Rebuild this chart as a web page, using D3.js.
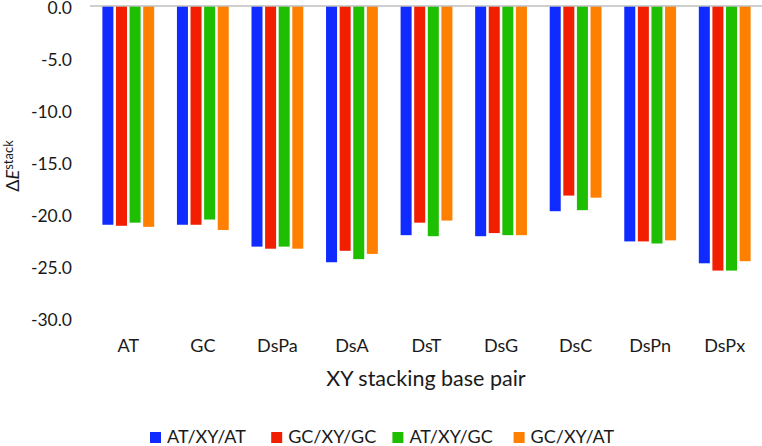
<!DOCTYPE html>
<html>
<head>
<meta charset="utf-8">
<script src="https://cdn.jsdelivr.net/npm/d3@7"></script>
<style>
  body { margin: 0; background: #fff; }
  text { font-family: Lato, "Open Sans", sans-serif; fill: #1a1a1a; }
</style>
</head>
<body>
<div id="chart"></div>
<script>
// Data
var categories = ["AT", "GC", "DsPa", "DsA", "DsT", "DsG", "DsC", "DsPn", "DsPx"];
var seriesNames = ["AT/XY/AT", "GC/XY/GC", "AT/XY/GC", "GC/XY/AT"];
var seriesColors = ["#0f2bff", "#f21e00", "#1ebe00", "#ff8000"];
var atXyAt = [-21.0, -21.0, -23.1, -24.6, -22.0, -22.1, -19.7, -22.6, -24.7];
var gcXyGc = [-21.1, -21.0, -23.3, -23.5, -20.8, -21.8, -18.2, -22.6, -25.4];
var atXyGc = [-20.8, -20.5, -23.1, -24.3, -22.1, -22.0, -19.6, -22.8, -25.4];
var gcXyAt = [-21.2, -21.5, -23.3, -23.8, -20.6, -22.0, -18.4, -22.5, -24.5];
var yTicks = [0, -5, -10, -15, -20, -25, -30];

var seriesValues = [atXyAt, gcXyGc, atXyGc, gcXyAt];

var svgWidth = 762;
var svgHeight = 446;

var svg = d3.select("#chart")
  .append("svg")
  .attr("width", svgWidth)
  .attr("height", svgHeight);

// Scales
var x0 = d3.scaleBand()
  .domain(categories)
  .range([91, 762]);

var groupWidth = 51.8;
var x1 = d3.scaleBand()
  .domain(seriesNames)
  .range([0, groupWidth])
  .paddingInner(0.19);

var y = d3.scaleLinear()
  .domain([-30, 0])
  .range([318.5, 6]);

// Bars
var groups = svg.selectAll(".group")
  .data(categories)
  .enter()
  .append("g")
  .attr("class", "group")
  .attr("transform", d => `translate(${x0(d) + (x0.bandwidth() - groupWidth) / 2}, 0)`);

groups.selectAll("rect")
  .data((d, i) => seriesNames.map((s, j) => ({ s: s, v: seriesValues[j][i], c: seriesColors[j] })))
  .enter()
  .append("rect")
  .attr("x", d => x1(d.s))
  .attr("y", y(0))
  .attr("width", x1.bandwidth())
  .attr("height", d => y(d.v) - y(0))
  .attr("fill", d => d.c);

// Zero line
svg.append("line")
  .attr("x1", 90)
  .attr("x2", 762)
  .attr("y1", y(0))
  .attr("y2", y(0))
  .attr("stroke", "#bfbfbf")
  .attr("stroke-width", 1.5);

// Y axis labels (plain hyphen like the original)
var leftAxis = d3.axisLeft(y)
  .tickValues(yTicks)
  .tickSize(0)
  .tickPadding(0)
  .tickFormat(d => d.toFixed(1));

var yAxisG = svg.append("g")
  .attr("transform", "translate(72, 0)")
  .call(leftAxis);
yAxisG.select(".domain").remove();
yAxisG.selectAll("text")
  .attr("font-family", "Lato, sans-serif")
  .attr("font-size", "17.5px")
  .attr("dy", "0.42em")
  .attr("fill", "#1a1a1a");

// Category labels
var bottomAxis = d3.axisBottom(x0)
  .tickSize(0)
  .tickPadding(0);

var xAxisG = svg.append("g")
  .attr("transform", "translate(0, 339)")
  .call(bottomAxis);
xAxisG.select(".domain").remove();
xAxisG.selectAll("text")
  .attr("font-family", "Lato, sans-serif")
  .attr("font-size", "18px")
  .attr("fill", "#1a1a1a");

// Axis titles
svg.append("text")
  .attr("x", 426)
  .attr("y", 386)
  .attr("text-anchor", "middle")
  .attr("font-size", "21.5px")
  .text("XY stacking base pair");

var yTitle = svg.append("text")
  .attr("transform", "translate(19, 166) rotate(-90)")
  .attr("text-anchor", "middle")
  .attr("font-size", "18px");
yTitle.append("tspan").text("\u0394");
yTitle.append("tspan").attr("font-style", "italic").text("E");
yTitle.append("tspan").attr("font-size", "13px").attr("dy", "-6").text("stack");

// Legend
var legend = svg.append("g");
seriesNames.forEach(function(name, i) {
  var lx = 150 + i * 121.2;
  legend.append("rect")
    .attr("x", lx)
    .attr("y", 432)
    .attr("width", 11)
    .attr("height", 11)
    .attr("fill", seriesColors[i]);
  legend.append("text")
    .attr("x", lx + 17)
    .attr("y", 443)
    .attr("font-size", "18px")
    .text(name);
});
</script>
</body>
</html>
